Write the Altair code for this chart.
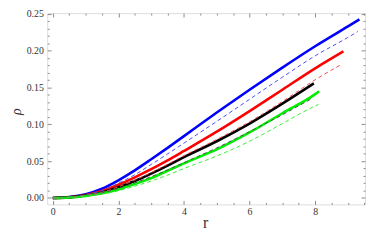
import altair as alt
import pandas as pd

# ---- data ----
r_blue = [0, 0.5, 1, 1.5, 2, 2.5, 3, 3.5, 4, 5, 6, 7, 8, 9, 9.35]
v_blue = [0, 0.0012, 0.005, 0.0125, 0.024, 0.0375, 0.0525, 0.068, 0.084, 0.116, 0.147, 0.177, 0.206, 0.233, 0.2425]

r_blue_d = [0, 0.5, 1, 1.5, 2, 2.5, 3, 3.5, 4, 5, 6, 7, 8, 9, 9.3]
v_blue_d = [0, 0.001, 0.0043, 0.010, 0.020, 0.0315, 0.0455, 0.0598, 0.0745, 0.104, 0.134, 0.164, 0.193, 0.218, 0.226]

r_red = [0, 0.5, 1, 1.5, 2, 2.5, 3, 3.5, 4, 5, 6, 7, 8, 8.86]
v_red = [0, 0.001, 0.004, 0.0095, 0.018, 0.028, 0.039, 0.051, 0.0638, 0.090, 0.118, 0.147, 0.176, 0.199]

r_red_d = [0, 0.5, 1, 1.5, 2, 2.5, 3, 3.5, 4, 5, 6, 7, 8, 8.83]
v_red_d = [0, 0.0008, 0.0034, 0.0077, 0.0152, 0.0243, 0.0345, 0.0458, 0.0575, 0.0795, 0.1035, 0.131, 0.1605, 0.182]

r_black = [0, 0.5, 1, 1.5, 2, 2.5, 3, 3.5, 4, 5, 6, 7, 7.96]
v_black = [0, 0.0008, 0.0033, 0.0075, 0.0145, 0.023, 0.033, 0.044, 0.0555, 0.077, 0.101, 0.128, 0.1555]

r_black_d = [0, 0.5, 1, 1.5, 2, 2.5, 3, 3.5, 4, 5, 6, 7, 7.94]
v_black_d = [0, 0.0007, 0.003, 0.0068, 0.013, 0.0205, 0.029, 0.038, 0.048, 0.068, 0.090, 0.113, 0.136]

r_green = [0, 0.5, 1, 1.5, 2, 2.5, 3, 3.5, 4, 5, 6, 7, 8, 8.12]
v_green = [0, 0.0007, 0.0028, 0.0063, 0.0115, 0.019, 0.027, 0.037, 0.047, 0.066, 0.089, 0.115, 0.141, 0.145]

r_green_d = [0, 0.5, 1, 1.5, 2, 2.5, 3, 3.5, 4, 5, 6, 7, 8, 8.1]
v_green_d = [0, 0.0006, 0.0024, 0.0053, 0.0098, 0.016, 0.023, 0.031, 0.040, 0.057, 0.077, 0.101, 0.125, 0.127]

x_major = [0, 2, 4, 6, 8]
x_minor = [0.5, 1, 1.5, 2.5, 3, 3.5, 4.5, 5, 5.5, 6.5, 7, 7.5, 8.5, 9, 9.5]
y_major = [0, 0.05, 0.10, 0.15, 0.20, 0.25]
y_minor = [0.01, 0.02, 0.03, 0.04, 0.06, 0.07, 0.08, 0.09, 0.11, 0.12, 0.13, 0.14,
           0.16, 0.17, 0.18, 0.19, 0.21, 0.22, 0.23, 0.24]

W, H = 324, 195
FRAME = "#8a8a8a"
LABEL = "#333333"
SERIF = "Liberation Serif"

xs = alt.Scale(domain=[-0.17, 9.52], nice=False, zero=False)
ys = alt.Scale(domain=[-0.0087, 0.251], nice=False, zero=False)

def tick_axis(orient, values, size, offset):
    return alt.Axis(orient=orient, values=values, labels=False, domain=False, grid=False,
                    ticks=True, tickSize=size, tickColor=FRAME, tickWidth=1,
                    offset=offset, title=None)

x_label_axis = alt.Axis(orient="bottom", values=x_major, format="d", ticks=False, domain=False,
                        grid=False, labelFont=SERIF, labelFontSize=10, labelColor=LABEL,
                        labelPadding=2, title="r", titleFont=SERIF, titleFontSize=16,
                        titleFontWeight="normal", titleColor=LABEL, titleX=161, titleY=19,
                        titleBaseline="middle")
y_label_axis = alt.Axis(orient="left", values=y_major, format=".2f", ticks=False, domain=False,
                        grid=False, labelFont=SERIF, labelFontSize=10, labelColor=LABEL,
                        labelPadding=4, title="ρ", titleFont=SERIF, titleFontSize=14,
                        titleFontStyle="italic", titleFontWeight="normal", titleColor=LABEL,
                        titleX=-31, titleY=100, titleBaseline="middle", titleAlign="center")

x_axes = [
    x_label_axis,
    tick_axis("top", x_major, 4, -H),      # inward ticks at bottom
    tick_axis("top", x_minor, 2, -H),
    tick_axis("bottom", x_major, 4, -H),   # inward ticks at top
    tick_axis("bottom", x_minor, 2, -H),
]
y_axes = [
    y_label_axis,
    tick_axis("right", y_major, 4, -W),    # inward ticks at left
    tick_axis("right", y_minor, 2, -W),
    tick_axis("left", y_major, 4, -W),     # inward ticks at right
    tick_axis("left", y_minor, 2, -W),
]

series = [
    ("blue", r_blue, v_blue, "#0000ff", False),
    ("red", r_red, v_red, "#ff0000", False),
    ("black", r_black, v_black, "#000000", False),
    ("green", r_green, v_green, "#00ee00", False),
    ("blue dashed", r_blue_d, v_blue_d, "#4a4aff", True),
    ("red dashed", r_red_d, v_red_d, "#ff4a4a", True),
    ("black dashed", r_black_d, v_black_d, "#555555", True),
    ("green dashed", r_green_d, v_green_d, "#33ee33", True),
]

layers = []
for i, (name, rs, vs, col, dashed) in enumerate(series):
    df = pd.DataFrame({"r": rs, "v": vs, "series": name})
    if dashed:
        mark = alt.Chart(df).mark_line(color=col, strokeWidth=1, strokeDash=[4, 3],
                                       interpolate="monotone", clip=True)
    else:
        mark = alt.Chart(df).mark_line(color=col, strokeWidth=2.6,
                                       interpolate="monotone", clip=True)
    xa = x_axes[i] if i < len(x_axes) else None
    ya = y_axes[i] if i < len(y_axes) else None
    layers.append(mark.encode(
        x=alt.X("r:Q", scale=xs, axis=xa),
        y=alt.Y("v:Q", scale=ys, axis=ya),
    ))

chart = alt.layer(*layers).resolve_axis(x="independent", y="independent").properties(
    width=W, height=H,
    autosize=alt.AutoSizeParams(type="none"),
    padding={"left": 40, "top": 3, "right": 1, "bottom": 28},
).configure_view(stroke=FRAME, strokeWidth=1).configure(background="white")

chart.save("out.html", embed_options={"renderer": "svg", "actions": False})
